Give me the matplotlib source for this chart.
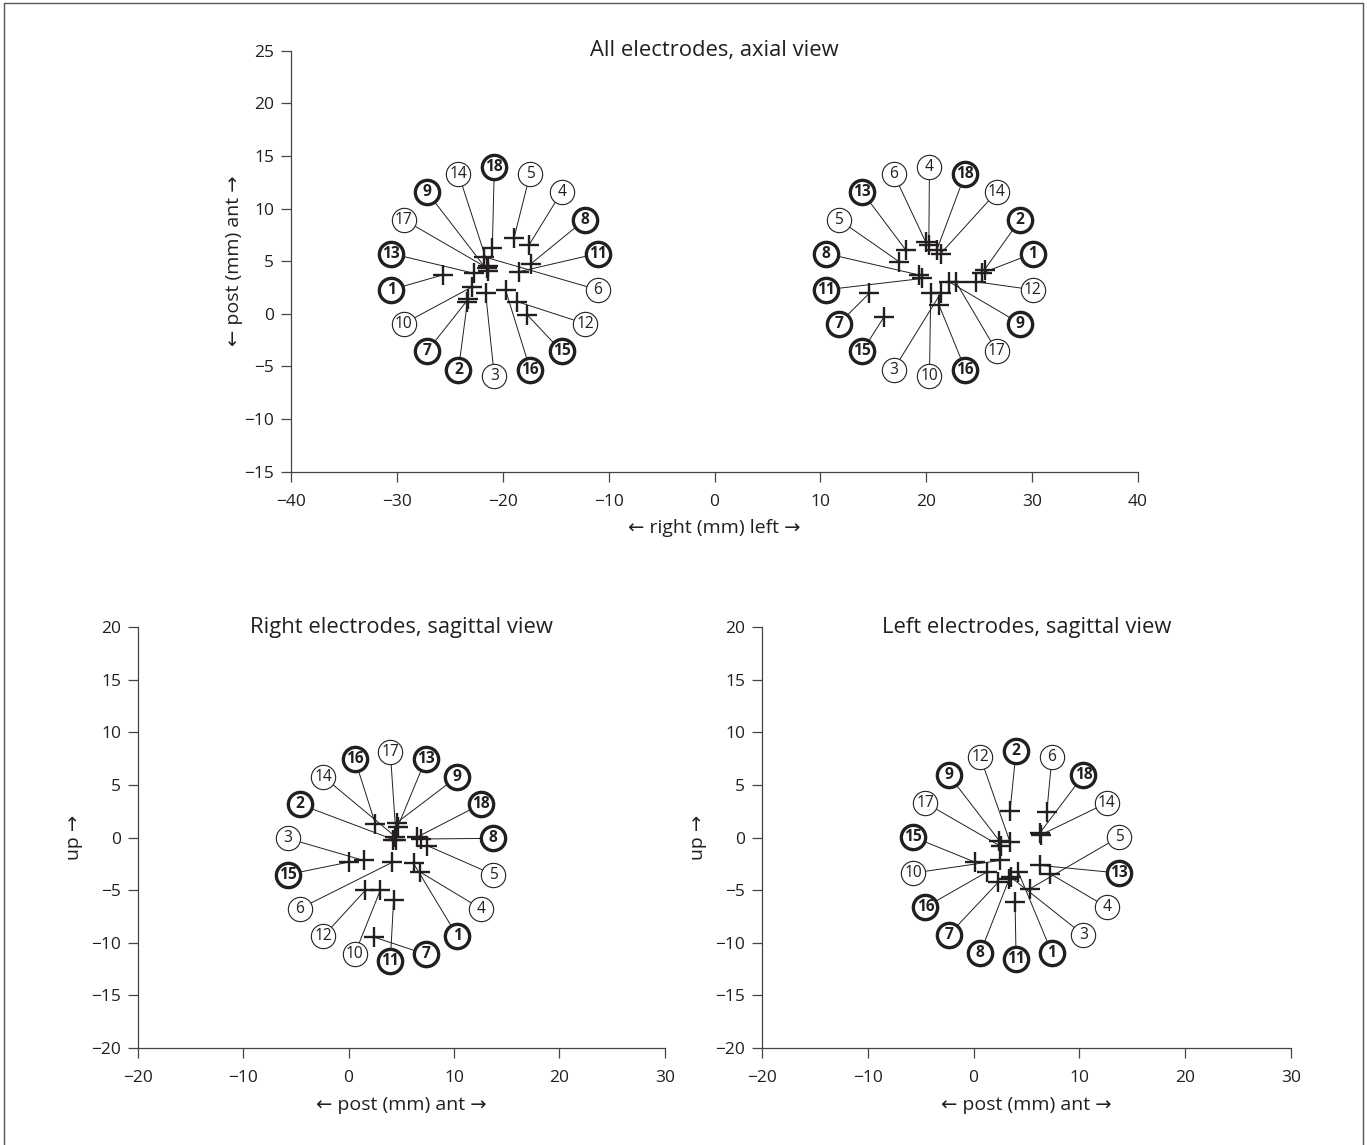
import matplotlib
matplotlib.use("Agg")
import matplotlib.pyplot as plt
import numpy as np
from matplotlib.patches import Rectangle

plt.rcParams['font.family'] = ['Open Sans', 'DejaVu Sans']

# electrode contacts 1..18, bold ones drawn with thick ring
bold_labels = [1, 2, 7, 8, 9, 11, 13, 15, 16, 18]

# axial view, right hemisphere (x = right/left, y = post/ant), index = label - 1
axial_right_x = [-25.69, -23.34, -21.62, -17.53, -18.95, -21.77, -23.25, -17.38, -21.41,
                 -22.87, -18.48, -18.64, -22.71, -21.36, -17.69, -19.74, -21.46, -20.99]
axial_right_y = [3.68, 1.15, 1.94, 6.52, 7.16, 5.41, 1.40, 4.72, 4.06,
                 2.57, 3.99, 1.15, 3.84, 4.53, -0.11, 2.26, 4.34, 6.21]

# axial view, left hemisphere
axial_left_x = [25.29, 25.51, 21.36, 20.24, 17.44, 19.95, 14.62, 19.34, 22.15,
                20.42, 19.62, 24.66, 18.07, 21.36, 16.03, 21.20, 22.78, 20.99]
axial_left_y = [3.87, 4.20, 1.94, 6.57, 4.94, 6.81, 1.94, 3.68, 3.04,
                1.94, 3.35, 3.04, 6.05, 5.72, -0.27, 0.83, 3.04, 6.05]

# sagittal view, right electrodes (x = post/ant, y = up)
sag_right_x = [6.16, 4.24, 1.43, 6.80, 7.43, 4.12, 2.38, 6.89, 4.59,
               3.01, 4.27, 1.59, 4.67, 4.43, 0.01, 2.54, 4.53, 6.52]
sag_right_y = [-2.46, -0.19, -2.18, -3.29, -0.76, -2.37, -9.45, -0.14, 1.42,
               -5.02, -5.97, -5.02, 1.04, 0.09, -2.34, 1.30, -0.28, 0.05]

# sagittal view, left electrodes
sag_left_x = [4.23, 3.45, 3.54, 7.23, 5.34, 6.92, 2.34, 3.35, 2.45,
              2.50, 3.92, 3.45, 6.29, 6.34, 0.13, 1.24, 2.59, 6.29]
sag_left_y = [-3.29, 2.56, -3.79, -3.44, -4.86, 2.40, -4.24, -3.98, -0.33,
              -2.18, -6.13, -0.45, -2.65, 0.24, -2.34, -3.29, -0.85, 0.47]

# order of the numbered rings, clockwise from the top
ring_axial_right = [18, 5, 4, 8, 11, 6, 12, 15, 16, 3, 2, 7, 10, 1, 13, 17, 9, 14]
ring_axial_left = [4, 18, 14, 2, 1, 12, 9, 17, 16, 10, 3, 15, 7, 11, 8, 5, 13, 6]
ring_sag_right = [17, 13, 9, 18, 8, 5, 4, 1, 7, 11, 10, 12, 6, 15, 3, 2, 14, 16]
ring_sag_left = [2, 6, 18, 14, 5, 13, 4, 3, 1, 11, 8, 7, 16, 10, 15, 17, 9, 12]

INK = '#231f20'


def draw_cluster(ax, xs, ys, ring, center, radius=9.9):
    for i, lab in enumerate(ring):
        ang = np.deg2rad(90 - 20 * i)
        lx = center[0] + radius * np.cos(ang)
        ly = center[1] + radius * np.sin(ang)
        ax.plot([xs[lab - 1], lx], [ys[lab - 1], ly], color=INK, lw=0.7, zorder=2)
        bold = lab in bold_labels
        ax.plot(lx, ly, 'o', ms=17.5, mfc='white', mec=INK,
                mew=2.4 if bold else 0.8, zorder=4)
        ax.text(lx, ly, str(lab), ha='center', va='center', fontsize=11.2,
                fontweight='bold' if bold else 'normal', color=INK, zorder=5)
    ax.plot(xs, ys, '+', ms=15, mew=1.7, color=INK, linestyle='none', zorder=3)


def style(ax, xlim, ylim, xticks, yticks, title, xlabel, ylabel, ypad):
    ax.set_xlim(xlim)
    ax.set_ylim(ylim)
    ax.set_xticks(xticks)
    ax.set_yticks(yticks)
    for s in ['top', 'right']:
        ax.spines[s].set_visible(False)
    for s in ['left', 'bottom']:
        ax.spines[s].set_color('#444444')
        ax.spines[s].set_linewidth(0.9)
    ax.tick_params(direction='out', length=7, width=0.9, color='#444444',
                   labelsize=12.5, labelcolor=INK)
    ax.tick_params(axis='x', pad=9)
    ax.tick_params(axis='y', pad=5)
    ax.set_xlabel(xlabel, fontsize=14, color=INK, labelpad=7)
    ax.set_ylabel(ylabel, fontsize=14, color=INK, labelpad=ypad)
    ax.text(0.5, 1.0, title, transform=ax.transAxes, ha='center', va='center',
            fontsize=15.8, color=INK)


fig = plt.figure(figsize=(13.67, 11.45), dpi=100)

ax1 = fig.add_axes([0.2129, 0.5882, 0.6196, 0.3675])
draw_cluster(ax1, axial_right_x, axial_right_y, ring_axial_right, (-20.8, 4.0))
draw_cluster(ax1, axial_left_x, axial_left_y, ring_axial_left, (20.3, 4.0))
style(ax1, (-40, 40), (-15, 25), range(-40, 41, 10), range(-15, 26, 5),
      'All electrodes, axial view', '\u2190 right (mm) left \u2192',
      '\u2190 post (mm) ant \u2192', 1)

ax2 = fig.add_axes([0.1007, 0.0847, 0.3857, 0.3677])
draw_cluster(ax2, sag_right_x, sag_right_y, ring_sag_right, (3.96, -1.8))
style(ax2, (-20, 30), (-20, 20), range(-20, 31, 10), range(-20, 21, 5),
      'Right electrodes, sagittal view', '\u2190 post (mm) ant \u2192', 'up \u2192', 6)

ax3 = fig.add_axes([0.5574, 0.0847, 0.3870, 0.3677])
draw_cluster(ax3, sag_left_x, sag_left_y, ring_sag_left, (4.02, -1.66))
style(ax3, (-20, 30), (-20, 20), range(-20, 31, 10), range(-20, 21, 5),
      'Left electrodes, sagittal view', '\u2190 post (mm) ant \u2192', 'up \u2192', 6)

fig.patches.append(Rectangle((4 / 1367, -0.01), 1359 / 1367, 1.01 - 3 / 1145,
                             transform=fig.transFigure, fill=False,
                             edgecolor='#555555', lw=1.0))

fig.savefig('out.png', dpi=100)
